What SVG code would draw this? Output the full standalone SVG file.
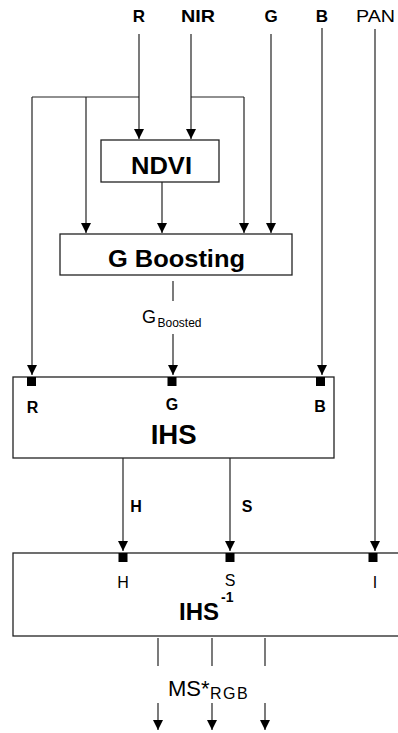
<svg xmlns="http://www.w3.org/2000/svg" width="398" height="733" viewBox="0 0 398 733">
<style>
.ln{stroke:#222;stroke-width:1.2;fill:none}
.ar{stroke:#222;stroke-width:1.2;fill:none;marker-end:url(#ah)}
.box{fill:#fff;stroke:#222;stroke-width:1.3}
.t{font-family:"Liberation Sans",Arial,sans-serif;fill:#000}
.b{font-weight:bold}
.sq{fill:#000}
</style>
<defs>
<marker id="ah" markerUnits="userSpaceOnUse" markerWidth="10" markerHeight="10" refX="10" refY="5" orient="auto">
<path d="M0,0 L10,5 L0,10 z" fill="#000"/>
</marker>
</defs>
<g id="inputs">
<text class="t b" x="139" y="22" font-size="17" text-anchor="middle">R</text>
<text class="t b" x="198" y="22" font-size="17" text-anchor="middle" textLength="34" lengthAdjust="spacingAndGlyphs">NIR</text>
<text class="t b" x="271" y="22" font-size="17" text-anchor="middle">G</text>
<text class="t b" x="322" y="22" font-size="17" text-anchor="middle">B</text>
<text class="t" x="375.5" y="22" font-size="17" text-anchor="middle" textLength="39" lengthAdjust="spacingAndGlyphs">PAN</text>
</g>
<g id="connectors">
<polyline class="ln" points="32,97 139,97"/>
<polyline class="ln" points="191,97 244,97"/>
<line class="ar" x1="139" y1="34" x2="139" y2="139"/>
<line class="ar" x1="191" y1="34" x2="191" y2="139"/>
<line class="ar" x1="86" y1="97" x2="86" y2="233"/>
<line class="ar" x1="162" y1="182" x2="162" y2="233"/>
<line class="ar" x1="244" y1="97" x2="244" y2="233"/>
<line class="ar" x1="271" y1="34" x2="271" y2="233"/>
<line class="ar" x1="32" y1="97" x2="32" y2="375"/>
<line class="ar" x1="322" y1="28" x2="322" y2="375"/>
<line class="ar" x1="375" y1="29" x2="375" y2="551"/>
<line class="ln" x1="173" y1="281" x2="173" y2="301"/>
<line class="ar" x1="173" y1="334" x2="173" y2="375"/>
<line class="ar" x1="123" y1="458" x2="123" y2="551"/>
<line class="ar" x1="230" y1="458" x2="230" y2="551"/>
<line class="ln" x1="158" y1="638" x2="158" y2="666"/>
<line class="ln" x1="212" y1="638" x2="212" y2="666"/>
<line class="ln" x1="265" y1="638" x2="265" y2="666"/>
<line class="ar" x1="158" y1="703" x2="158" y2="730"/>
<line class="ar" x1="212" y1="703" x2="212" y2="730"/>
<line class="ar" x1="265" y1="703" x2="265" y2="730"/>
</g>
<g id="ndvi">
<rect class="box" x="101" y="140" width="118" height="42"/>
<text class="t b" x="161.5" y="174" font-size="24" text-anchor="middle" textLength="61" lengthAdjust="spacingAndGlyphs">NDVI</text>
</g>
<g id="gboosting">
<rect class="box" x="60" y="234" width="232" height="41"/>
<text class="t b" x="176.5" y="267" font-size="24" text-anchor="middle" textLength="137" lengthAdjust="spacingAndGlyphs">G Boosting</text>
</g>
<g id="gboosted-label">
<text class="t" x="142" y="323" font-size="18">G<tspan x="157.5" y="327" font-size="12">Boosted</tspan></text>
</g>
<g id="ihs">
<rect class="box" x="13" y="377" width="321" height="81"/>
<rect class="sq" x="27" y="377" width="9" height="9"/>
<rect class="sq" x="167.5" y="377" width="9" height="9"/>
<rect class="sq" x="316" y="377" width="9" height="9"/>
<text class="t b" x="32.5" y="413" font-size="16" text-anchor="middle">R</text>
<text class="t b" x="172" y="410" font-size="16" text-anchor="middle">G</text>
<text class="t b" x="320" y="412" font-size="16" text-anchor="middle">B</text>
<text class="t b" x="173.7" y="444" font-size="28" text-anchor="middle" textLength="46" lengthAdjust="spacingAndGlyphs">IHS</text>
</g>
<g id="hs-labels">
<text class="t b" x="136" y="512" font-size="16" text-anchor="middle">H</text>
<text class="t b" x="247" y="512" font-size="16" text-anchor="middle">S</text>
</g>
<g id="ihs-inverse">
<rect class="box" x="13" y="553" width="390" height="83"/>
<rect class="sq" x="118.5" y="553" width="9" height="9"/>
<rect class="sq" x="225.5" y="553" width="9" height="9"/>
<rect class="sq" x="368.5" y="553" width="9" height="9"/>
<text class="t" x="123" y="588" font-size="16" text-anchor="middle">H</text>
<text class="t" x="230" y="586" font-size="16" text-anchor="middle">S</text>
<text class="t" x="375" y="588" font-size="16" text-anchor="middle">I</text>
<text class="t b" x="179" y="620" font-size="24">IHS<tspan x="221" y="602" font-size="14">-1</tspan></text>
</g>
<g id="output-label">
<text class="t" x="168" y="696" font-size="22">MS*<tspan x="210" y="699" font-size="16" letter-spacing="1.5">RGB</tspan></text>
</g>
</svg>
